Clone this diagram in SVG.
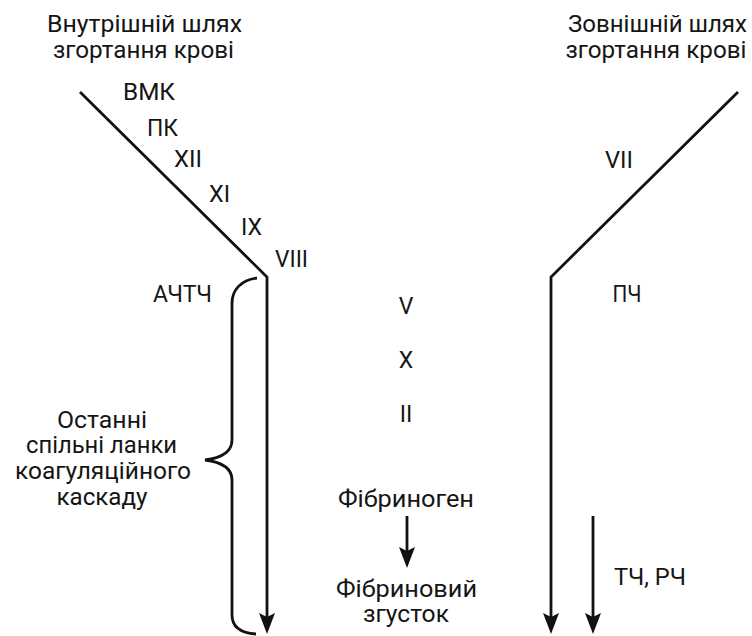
<svg xmlns="http://www.w3.org/2000/svg" width="752" height="636" viewBox="0 0 752 636">
<defs>
<style>
text{font-family:Roboto,"Liberation Sans",Arial,sans-serif;font-weight:400;font-size:23px;fill:#151515;}
.m{text-anchor:middle;}
.ln{fill:none;stroke:#111;stroke-width:2.8;}
</style>
<marker id="ah" markerUnits="userSpaceOnUse" orient="auto" markerWidth="30" markerHeight="30" refX="0" refY="0" overflow="visible">
<path d="M10,0 L-11,-8 L-7,0 L-11,8 Z" fill="#111"/>
</marker>
</defs>
<rect width="752" height="636" fill="#fff"/>
<g id="title-left">
<text class="m" x="144.5" y="32" textLength="195" lengthAdjust="spacingAndGlyphs">Внутрішній шлях</text>
<text class="m" x="143.5" y="58" textLength="181" lengthAdjust="spacingAndGlyphs">згортання крові</text>
</g>
<g id="title-right">
<text class="m" x="657.5" y="32" textLength="179" lengthAdjust="spacingAndGlyphs">Зовнішній шлях</text>
<text class="m" x="656" y="58" textLength="181" lengthAdjust="spacingAndGlyphs">згортання крові</text>
</g>
<g id="intrinsic-factors">
<text x="123" y="100" textLength="52" lengthAdjust="spacingAndGlyphs">ВМК</text>
<text x="147" y="136" textLength="31" lengthAdjust="spacingAndGlyphs">ПК</text>
<text x="174" y="167" textLength="28" lengthAdjust="spacingAndGlyphs">XII</text>
<text x="209" y="202" textLength="21" lengthAdjust="spacingAndGlyphs">XI</text>
<text x="241" y="235" textLength="21" lengthAdjust="spacingAndGlyphs">IX</text>
<text x="275" y="267" textLength="33" lengthAdjust="spacingAndGlyphs">VIII</text>
</g>
<g id="aptt"><text x="153" y="302" textLength="59" lengthAdjust="spacingAndGlyphs">АЧТЧ</text></g>
<g id="extrinsic-factors">
<text class="m" x="619" y="168" textLength="28" lengthAdjust="spacingAndGlyphs">VII</text>
<text class="m" x="627" y="302" textLength="29" lengthAdjust="spacingAndGlyphs">ПЧ</text>
</g>
<g id="common-factors">
<text class="m" x="406" y="314">V</text>
<text class="m" x="406" y="368">X</text>
<text class="m" x="406" y="422">II</text>
</g>
<g id="common-label">
<text class="m" x="102" y="428" textLength="90" lengthAdjust="spacingAndGlyphs">Останні</text>
<text class="m" x="101.5" y="453" textLength="151" lengthAdjust="spacingAndGlyphs">спільні ланки</text>
<text class="m" x="103" y="479" textLength="176" lengthAdjust="spacingAndGlyphs">коагуляційного</text>
<text class="m" x="102" y="505" textLength="91" lengthAdjust="spacingAndGlyphs">каскаду</text>
</g>
<g id="fibrinogen"><text class="m" x="406" y="507" textLength="136" lengthAdjust="spacingAndGlyphs">Фібриноген</text></g>
<g id="fibrin-clot">
<text class="m" x="406.5" y="597" textLength="141" lengthAdjust="spacingAndGlyphs">Фібриновий</text>
<text class="m" x="406" y="622" textLength="86" lengthAdjust="spacingAndGlyphs">згусток</text>
</g>
<g id="tt-rt"><text x="614" y="585" textLength="72" lengthAdjust="spacingAndGlyphs">ТЧ, РЧ</text></g>
<g id="connectors">
<path class="ln" d="M80 92 L267 277 L267 624" marker-end="url(#ah)"/>
<path class="ln" d="M738 92 L551 277 L551 624" marker-end="url(#ah)"/>
<path class="ln" d="M593 516 L593 624" marker-end="url(#ah)"/>
<path class="ln" d="M407 516 L407 558" marker-end="url(#ah)"/>
<path class="ln" d="M257 278 C241 280 232 290 232 303 L232 440 C232 452 221 458 205 460 C221 462 232 468 232 480 L232 615 C232 627 241 633 256 634"/>
</g>
</svg>
